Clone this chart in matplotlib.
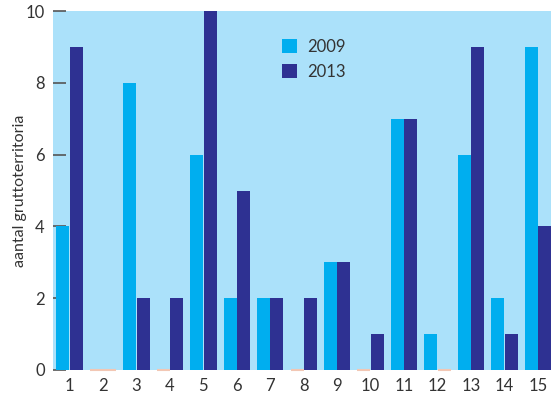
import numpy as np
import matplotlib.pyplot as plt

plt.rcParams['font.family'] = ['Lato', 'DejaVu Sans']

plots = list(range(1, 16))
y2009 = [4, 0, 8, 0, 6, 2, 2, 0, 3, 0, 7, 1, 6, 2, 9]
y2013 = [9, 0, 2, 2, 10, 5, 2, 2, 3, 1, 7, 0, 9, 1, 4]

c2009 = '#00aeef'
c2013 = '#2e3192'
bg = '#abe1fa'
zero_col = '#f2c7b4'
text_col = '#333333'

fig = plt.figure(figsize=(5.51, 4.0), dpi=100)
ax = fig.add_axes([0.0962, 0.075, 0.9038, 0.8975])
ax.set_facecolor(bg)

x = np.array(plots)
w = 0.39
a = np.array(y2009, dtype=float)
b = np.array(y2013, dtype=float)
ax.bar(x - 0.2, a, w, color=c2009, label='2009', zorder=2)
ax.bar(x + 0.2, b, w, color=c2013, label='2013', zorder=2)

# zero values shown as a thin line on the baseline
for off, vals in ((-0.2, a), (0.2, b)):
    zx = x[vals == 0] + off
    ax.hlines(np.zeros(len(zx)), zx - w / 2, zx + w / 2, colors=zero_col,
              lw=1.5, zorder=3, clip_on=False)

ax.set_xlim(0.507, 15.39)
ax.set_ylim(0, 10)
ax.set_yticks([0, 2, 4, 6, 8, 10])
ax.set_yticklabels(['0', '2', '4', '6', '8', '10'])
ax.set_xticks(x)
ax.set_xticklabels([str(p) for p in plots])
for s in ax.spines.values():
    s.set_visible(False)
ax.tick_params(axis='y', direction='in', length=9, width=1.2, color='#555555',
               labelsize=12, labelcolor=text_col, pad=6)
ax.tick_params(axis='x', length=0, labelsize=12, labelcolor=text_col, pad=6)
for t in ax.get_yticklines():
    t.set_zorder(4)

ax.set_ylabel('aantal gruttoterritoria', fontsize=11.5, color=text_col, labelpad=-1)

ax.legend(loc='upper left', bbox_to_anchor=(0.43, 0.965), frameon=False,
          fontsize=12, handlelength=0.9, handleheight=0.9, labelspacing=0.55,
          handletextpad=0.6, labelcolor=text_col)

fig.savefig('out.png', dpi=100)
